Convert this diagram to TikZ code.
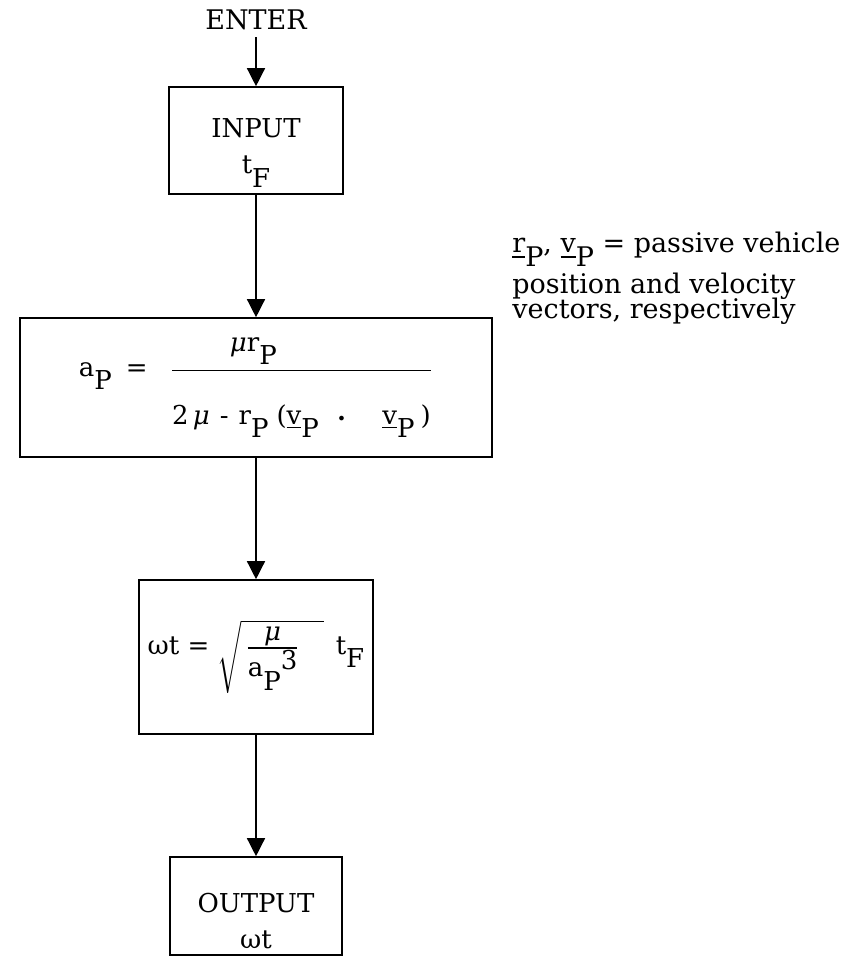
\documentclass[tikz,border=0pt]{standalone}
\usepackage{amsmath}
\usepackage{fontspec}
\setmainfont{DejaVu Serif}
\usepackage{tikz}
\usetikzlibrary{arrows.meta}
\newcommand{\lo}[1]{\raisebox{-1ex}{#1}}
\newcommand{\gmu}{\textit{μ}}
\newcommand{\vecr}{\underline{r}}
\newcommand{\vecv}{\underline{v}}
\newcommand{\dotp}{{\fontsize{8}{8}\selectfont •}}
\newcommand{\tightskip}{\lineskiplimit-20pt\relax}
\tikzset{
  lab/.style={font=\fontsize{13}{15}\selectfont},
  box/.style={draw=black, line width=0.8pt, align=center, inner sep=0pt, lab},
  flow/.style={draw=black, line width=0.7pt, -{Triangle[length=9pt,width=9pt]}},
  note/.style={font=\fontsize{13.5}{12.5}\selectfont\tightskip, align=left, inner sep=0pt},
}

\begin{document}
\begin{tikzpicture}[x=0.5pt,y=-0.5pt]
  \useasboundingbox (0,0) rectangle (851,967);
  \def\xc{256}
  % flow chart column
  \node[lab,font=\fontsize{13.5}{15}\selectfont] (enter) at (\xc,20) {ENTER};
  \node[box,minimum width=87pt,minimum height=53.5pt] (input) at (\xc,140.5)
    {\rule{0pt}{22pt}INPUT\\[3pt]t\lo{F}};
  \node[box,minimum width=236pt,minimum height=69.5pt] (semi) at (\xc,387.5)
    {a\lo{P}\hspace{7pt}=\hspace{11pt}$\displaystyle\genfrac{}{}{0.8pt}{0}{\mbox{\gmu r\lo{P}\hspace*{48pt}}}%
      {\mbox{\rule{0pt}{24pt}2\,\gmu\hspace{5pt}-\hspace{5pt}r\lo{P}\hspace{4pt}(\vecv\lo{P}\hspace{9pt}\dotp\hspace{18pt}\vecv\lo{P}\hspace{3pt})}}$};
  \node[box,minimum width=117pt,minimum height=77pt] (rate) at (\xc,657)
    {ωt =\hspace{4pt}$\sqrt{\hspace{2pt}\genfrac{}{}{0.8pt}{1}{\mbox{\gmu}}{\mbox{a\lo{P}\raisebox{0.5ex}{3}}}\hspace{12pt}}$\hspace{6pt}t\lo{F}};
  \node[box,minimum width=86pt,minimum height=49pt] (output) at (\xc,906)
    {\rule{0pt}{25pt}OUTPUT\\[3pt]ωt};
  % side remark
  \node[note,anchor=north west] (remark) at (512,232)
    {\vecr\lo{P}, \vecv\lo{P} = passive vehicle\\[8pt]position and velocity\\vectors, respectively};
  \draw[flow] (enter) -- (input);
  \draw[flow] (input) -- (semi);
  \draw[flow] (semi) -- (rate);
  \draw[flow] (rate) -- (output);
\end{tikzpicture}
\end{document}
